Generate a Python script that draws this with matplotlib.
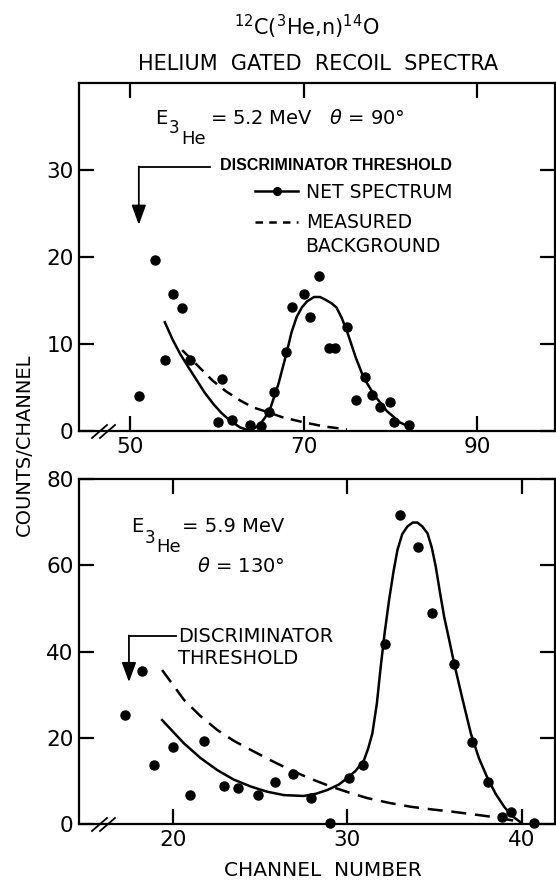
import matplotlib
matplotlib.use("Agg")
import matplotlib.pyplot as plt
from matplotlib.lines import Line2D

plt.rcParams['font.family'] = ['DejaVu Sans']
plt.rcParams['mathtext.fontset'] = 'dejavusans'

# ---- upper panel: E(3He) = 5.2 MeV, theta = 90 deg ----
top_x = [51.0, 52.9, 54.0, 54.9, 56.0, 56.9, 60.1, 60.6, 61.7, 63.8, 65.1, 66.0, 66.6,
         68.0, 68.7, 70.0, 70.8, 71.8, 72.9, 73.6, 75.0, 76.1, 77.1, 77.9, 78.8, 80.0,
         80.4, 82.2]
top_y = [4.0, 19.7, 8.2, 15.8, 14.1, 8.2, 1.0, 6.0, 1.3, 0.7, 0.6, 2.2, 4.5,
         9.1, 14.2, 15.8, 13.1, 17.8, 9.5, 9.5, 12.0, 3.6, 6.2, 4.1, 2.8, 3.3,
         1.0, 0.7]

top_fit_x = [54.0, 54.9, 55.8, 56.8, 57.7, 58.6, 59.6, 60.5, 61.5, 62.7, 63.9, 65.0,
             65.6, 66.2, 67.1, 68.1, 68.6, 69.2, 69.8, 70.4, 71.2, 71.9, 72.5, 73.2,
             73.8, 74.4, 75.0, 75.5, 76.0, 76.9, 78.1, 79.6, 81.1, 82.3]
top_fit_y = [12.5, 10.5, 8.8, 7.2, 5.8, 4.4, 3.1, 2.1, 1.2, 0.4, 0.0, 0.8,
             1.6, 2.7, 5.4, 9.2, 11.3, 13.1, 14.2, 14.9, 15.4, 15.4, 15.1, 14.7,
             14.2, 13.0, 11.5, 10.0, 8.5, 6.2, 4.2, 2.3, 1.0, 0.4]

top_bg_x = [56.0, 57.7, 59.5, 61.0, 62.7, 64.2, 65.8, 67.5, 70.0, 72.5, 75.0]
top_bg_y = [9.3, 7.6, 5.8, 4.6, 3.5, 2.7, 2.2, 1.6, 1.0, 0.5, 0.2]

# ---- lower panel: E(3He) = 5.9 MeV, theta = 130 deg ----
bot_x = [17.3, 18.26, 18.93, 20.0, 20.97, 21.8, 22.94, 23.74, 24.9, 25.86, 26.9, 27.9,
         29.0, 30.1, 30.9, 32.17, 33.03, 34.08, 34.88, 36.09, 37.13, 38.07, 38.85,
         39.37, 40.67]
bot_y = [25.2, 35.5, 13.7, 17.8, 6.7, 19.3, 8.7, 8.3, 6.7, 9.7, 11.6, 6.0,
         0.2, 10.6, 13.7, 41.8, 71.7, 64.3, 49.0, 37.0, 18.9, 9.8, 1.7,
         2.7, 0.3]

bot_fit_x = [19.4, 20.65, 21.6, 22.56, 23.5, 24.47, 25.4, 26.38, 27.5, 28.2, 28.87,
             29.5, 30.0, 30.5, 30.96, 31.2, 31.44, 31.7, 31.92, 32.15, 32.4, 32.65,
             32.88, 33.15, 33.45, 33.75, 34.02, 34.3, 34.6, 34.85, 35.07, 35.3, 35.55,
             35.85, 36.12, 36.6, 37.08, 37.55, 38.04, 38.5, 38.99, 39.4, 39.76, 40.0]
bot_fit_y = [24.1, 18.7, 15.3, 12.5, 10.3, 8.7, 7.5, 6.7, 6.5, 7.0, 7.9,
             9.1, 10.6, 12.4, 14.8, 17.5, 21.0, 28.0, 36.5, 44.5, 52.0, 58.5,
             63.6, 67.2, 69.0, 69.9, 69.9, 69.0, 67.4, 64.0, 59.7, 54.0, 48.1,
             42.5, 37.3, 29.0, 21.0, 15.2, 10.6, 7.0, 4.0, 2.0, 0.9, 0.2]

bot_bg_x = [19.4, 20.65, 21.6, 22.56, 23.5, 24.47, 25.6, 26.76, 27.9, 29.05, 30.1,
            31.16, 32.4, 33.64, 34.8, 35.93, 37.1, 38.22, 39.1, 39.94]
bot_bg_y = [35.7, 28.8, 25.0, 21.8, 19.3, 17.2, 14.8, 12.5, 10.5, 8.7, 7.3,
            6.0, 4.9, 4.0, 3.4, 2.9, 2.3, 1.7, 1.1, 0.5]

W, H = 556, 884
fig = plt.figure(figsize=(W / 100, H / 100), dpi=100)


def fx(px):
    return px / W


def fy(py):
    return 1 - py / H


ax1 = fig.add_axes([fx(79), fy(431), 476 / W, 348 / H])
ax2 = fig.add_axes([fx(79), fy(824), 476 / W, 345 / H])

for ax in (ax1, ax2):
    for s in ax.spines.values():
        s.set_linewidth(1.6)
    ax.tick_params(direction='in', length=11, width=1.6, labelsize=15.5,
                   top=True, right=True, pad=4)

ax1.set_xlim(44.1, 99.0)
ax1.set_ylim(0, 40)
ax1.set_xticks([50, 70, 90])
ax1.set_yticks([0, 10, 20, 30])

ax2.set_xlim(14.64, 41.9)
ax2.set_ylim(0, 80)
ax2.set_xticks([20, 30, 40])
ax2.set_yticks([0, 20, 40, 60, 80])

# upper panel
ax1.plot(top_x, top_y, 'o', color='black', markersize=6.5, clip_on=False)
ax1.plot(top_fit_x, top_fit_y, '-', color='black', lw=1.8)
ax1.plot(top_bg_x, top_bg_y, '--', color='black', lw=1.8, dashes=(4.5, 3))

# lower panel
ax2.plot(bot_x, bot_y, 'o', color='black', markersize=6.5, clip_on=False)
ax2.plot(bot_fit_x, bot_fit_y, '-', color='black', lw=1.8)
ax2.plot(bot_bg_x, bot_bg_y, '--', color='black', lw=1.8, dashes=(6, 3.5))

# axis break marks
for ax, y0, y1 in ((ax1, 438, 425), (ax2, 831, 818)):
    for a in (92, 100):
        fig.add_artist(Line2D([fx(a), fx(a + 15)], [fy(y0), fy(y1)],
                              color='black', lw=1.3))

# discriminator threshold arrows
ax1.plot([51.0, 59.2], [30.3, 30.3], color='black', lw=1.3)
ax1.annotate('', xy=(51.0, 23.7), xytext=(51.0, 30.4),
             arrowprops=dict(arrowstyle='-|>,head_length=0.6,head_width=0.22',
                             mutation_scale=20, color='black', lw=1.3,
                             shrinkA=0, shrinkB=0))
ax2.plot([17.5, 20.2], [43.6, 43.6], color='black', lw=1.3)
ax2.annotate('', xy=(17.5, 32.9), xytext=(17.5, 43.7),
             arrowprops=dict(arrowstyle='-|>,head_length=0.6,head_width=0.22',
                             mutation_scale=20, color='black', lw=1.3,
                             shrinkA=0, shrinkB=0))

fig.text(fx(220), fy(166), 'DISCRIMINATOR THRESHOLD', fontsize=11.5,
         fontweight='bold', family='Liberation Sans', va='center', ha='left')
fig.text(fx(178), fy(636), 'DISCRIMINATOR', fontsize=14, va='center', ha='left')
fig.text(fx(178), fy(658), 'THRESHOLD', fontsize=14, va='center', ha='left')

# legend in upper panel
h_net = Line2D([], [], color='black', lw=1.8, marker='o', markersize=5.5)
h_bg = Line2D([], [], color='black', lw=1.8, ls='--', dashes=(3, 2.5))
ax1.legend([h_net, h_bg], ['NET SPECTRUM', 'MEASURED'], loc='upper left',
           bbox_to_anchor=((255 - 79) / 476, (431 - 183) / 348),
           frameon=False, fontsize=13.5, handlelength=2.3, handletextpad=0.4,
           borderpad=0, borderaxespad=0, labelspacing=0.6, numpoints=1)
fig.text(fx(305), fy(247), 'BACKGROUND', fontsize=13.5, va='center', ha='left')

# energy / angle labels
fig.text(fx(155), fy(118), 'E', fontsize=14, va='center', ha='left')
fig.text(fx(169), fy(128), '3', fontsize=12, va='center', ha='left')
fig.text(fx(181), fy(139), 'He', fontsize=13, va='center', ha='left')
fig.text(fx(210), fy(118), r'= 5.2 MeV   $\theta$ = 90°', fontsize=14,
         va='center', ha='left')

fig.text(fx(131), fy(527), 'E', fontsize=14, va='center', ha='left')
fig.text(fx(145), fy(538), '3', fontsize=12, va='center', ha='left')
fig.text(fx(156), fy(547), 'He', fontsize=13, va='center', ha='left')
fig.text(fx(182), fy(527), '= 5.9 MeV', fontsize=14, va='center', ha='left')
fig.text(fx(197), fy(567), r'$\theta$ = 130°', fontsize=14, va='center', ha='left')

# titles and axis labels
fig.text(fx(307), fy(27), r'$^{12}$C($^{3}$He,n)$^{14}$O', fontsize=15,
         ha='center', va='center')
fig.text(fx(318), fy(64), 'HELIUM  GATED  RECOIL  SPECTRA', fontsize=15,
         ha='center', va='center')
fig.text(fx(24), fy(445), 'COUNTS/CHANNEL', fontsize=14, rotation=90,
         ha='center', va='center')
fig.text(fx(323), fy(870), 'CHANNEL  NUMBER', fontsize=14.5, ha='center', va='center')

fig.savefig('out.png', dpi=100)
